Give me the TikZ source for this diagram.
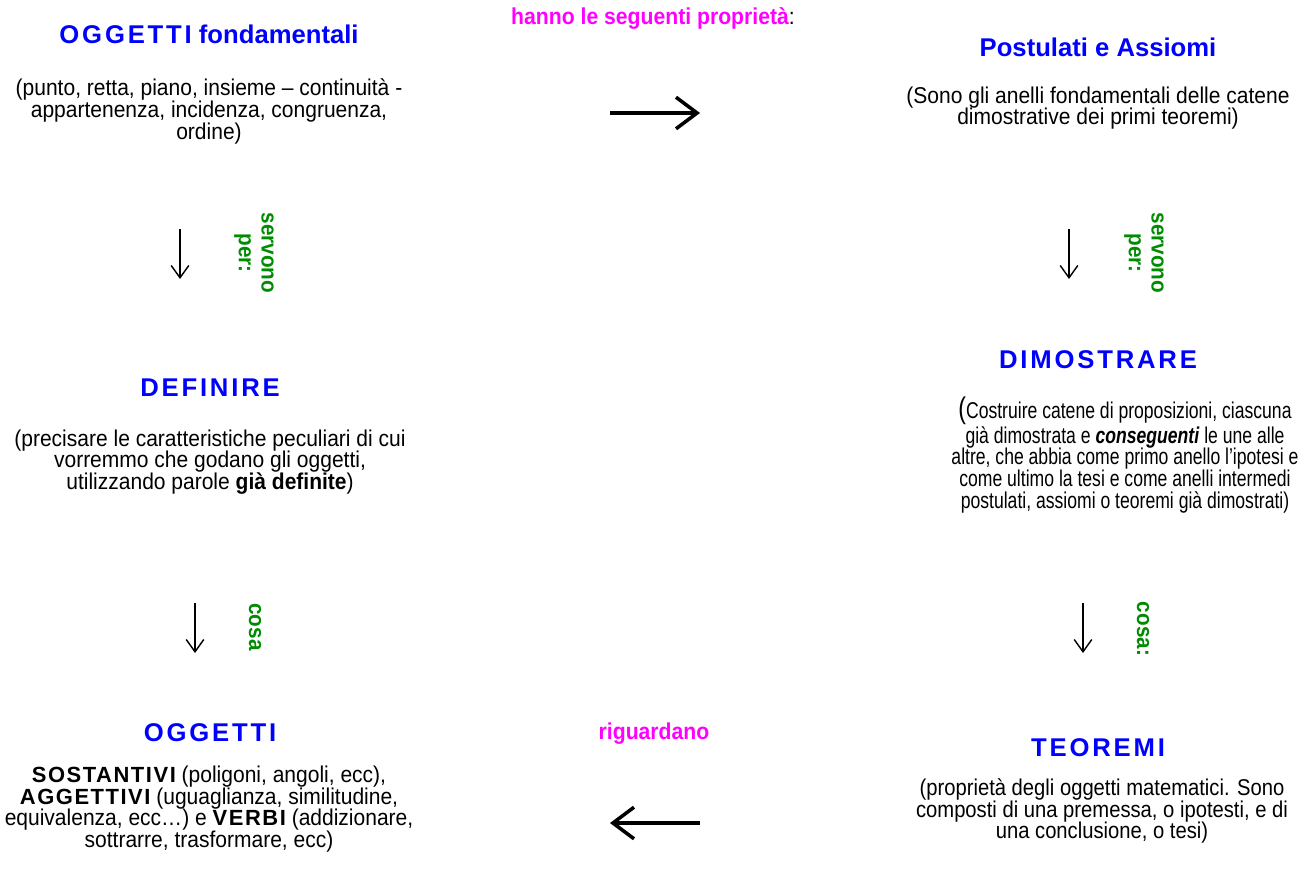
\documentclass[tikz,border=0pt]{standalone}
\usepackage{fontspec}
\usepackage{tikz}
\usetikzlibrary{arrows.meta}
\setmainfont{Liberation Sans}
\newfontfamily\bodyfont[FakeStretch=0.92]{Liberation Sans}
\newfontfamily\teorfont[FakeStretch=0.885]{Liberation Sans}
\newfontfamily\narrowfont[FakeStretch=0.77]{Liberation Sans}
\newfontfamily\capsfont[LetterSpace=11]{Liberation Sans}
\newfontfamily\kwfont[LetterSpace=7]{Liberation Sans}
\definecolor{headblue}{RGB}{0,0,255}
\definecolor{pinklabel}{RGB}{255,0,255}
\definecolor{verbgreen}{RGB}{0,140,0}
\newcommand{\kw}[1]{{\kwfont\bfseries\fontsize{12.5}{12.4}\selectfont #1}}
\tikzset{
  head/.style={text=headblue,inner sep=0pt,font=\fontsize{14.6}{17}\selectfont\bfseries},
  body/.style={align=center,inner sep=0pt,font=\bodyfont\fontsize{13}{12.4}\selectfont},
  pinklbl/.style={text=pinklabel,inner sep=0pt,font=\bodyfont\fontsize{13.1}{16}\selectfont\bfseries},
  verblbl/.style={text=verbgreen,rotate=-90,align=center,inner sep=0pt,
    font=\bodyfont\fontsize{12.8}{13}\selectfont\bfseries},
  bigarrow/.style={line width=2pt,-{Straight Barb[length=12pt,width=18pt,line width=2pt]}},
  downarrow/.style={line width=0.8pt,-{Straight Barb[length=7pt,width=10pt,line width=0.8pt]}}
}
\begin{document}
\begin{tikzpicture}[x=0.02cm,y=-0.02cm]
  \useasboundingbox (0,0) rectangle (1310,872);

  % top row
  \node[head] (ogfond) at (209,34) {{\capsfont OGGETTI} fondamentali};
  \node[body] (ogfondtxt) at (209,111.5)
    {(punto, retta, piano, insieme – continuità -\\
     appartenenza, incidenza, congruenza,\\
     ordine)};
  \node[pinklbl] (hanno) at (653,18) {hanno le seguenti proprietà{\color{black}\mdseries:}};
  \coordinate (hannoA) at (610,113);
  \coordinate (hannoB) at (700,113);
  \draw[bigarrow] (hannoA) -- (hannoB);

  \node[head] (postul) at (1098,47) {Postulati e Assiomi};
  \node[body] (postultxt) at (1098,108)
    {(Sono gli anelli fondamentali delle catene\\
     dimostrative dei primi teoremi)};

  % first column of down arrows
  \coordinate (servLA) at (180,229);
  \coordinate (servLB) at (180,279);
  \draw[downarrow] (servLA) -- (servLB);
  \node[verblbl] (servL) at (254,253) {servono\\per:};

  \coordinate (servRA) at (1069,229);
  \coordinate (servRB) at (1069,279);
  \draw[downarrow] (servRA) -- (servRB);
  \node[verblbl] (servR) at (1144,253) {servono\\per:};

  % middle row
  \node[head] (defin) at (210,388) {\capsfont DEFINIRE};
  \node[body] (defintxt) at (210,462)
    {(precisare le caratteristiche peculiari di cui\\
     vorremmo che godano gli oggetti,\\
     utilizzando parole \textbf{già definite})};

  \node[head] (dimos) at (1098,360) {\capsfont DIMOSTRARE};
  \node[body,font=\narrowfont\fontsize{13}{12.4}\selectfont] (dimostxt) at (1125,455)
    {{\fontsize{17}{12.4}\selectfont(}Costruire catene di proposizioni, ciascuna\\
     già dimostrata e \textbf{\textit{conseguenti}} le une alle\\
     altre, che abbia come primo anello l’ipotesi e\\
     come ultimo la tesi e come anelli intermedi\\
     postulati, assiomi o teoremi già dimostrati)};

  % second column of down arrows
  \coordinate (cosaLA) at (195,603);
  \coordinate (cosaLB) at (195,653);
  \draw[downarrow] (cosaLA) -- (cosaLB);
  \node[verblbl] (cosaL) at (255,627) {cosa};

  \coordinate (cosaRA) at (1083,603);
  \coordinate (cosaRB) at (1083,653);
  \draw[downarrow] (cosaRA) -- (cosaRB);
  \node[verblbl] (cosaR) at (1143,629) {cosa:};

  % bottom row
  \node[head] (ogg) at (210,733) {\capsfont OGGETTI};
  \node[body] (oggtxt) at (209,809)
    {\kw{SOSTANTIVI} (poligoni, angoli, ecc),\\
     \kw{AGGETTIVI} (uguaglianza, similitudine,\\
     equivalenza, ecc…) e \kw{VERBI} (addizionare,\\
     sottrarre, trasformare, ecc)};

  \node[pinklbl] (rigu) at (654,734) {riguardano};
  \coordinate (riguA) at (700,823);
  \coordinate (riguB) at (610,823);
  \draw[bigarrow] (riguA) -- (riguB);

  \node[head] (teor) at (1098,748) {\capsfont TEOREMI};
  \node[body,font=\teorfont\fontsize{13}{12.4}\selectfont] (teortxt) at (1102,811)
    {(proprietà degli oggetti matematici. Sono\\
     composti di una premessa, o ipotesti, e di\\
     una conclusione, o tesi)};
\end{tikzpicture}
\end{document}
